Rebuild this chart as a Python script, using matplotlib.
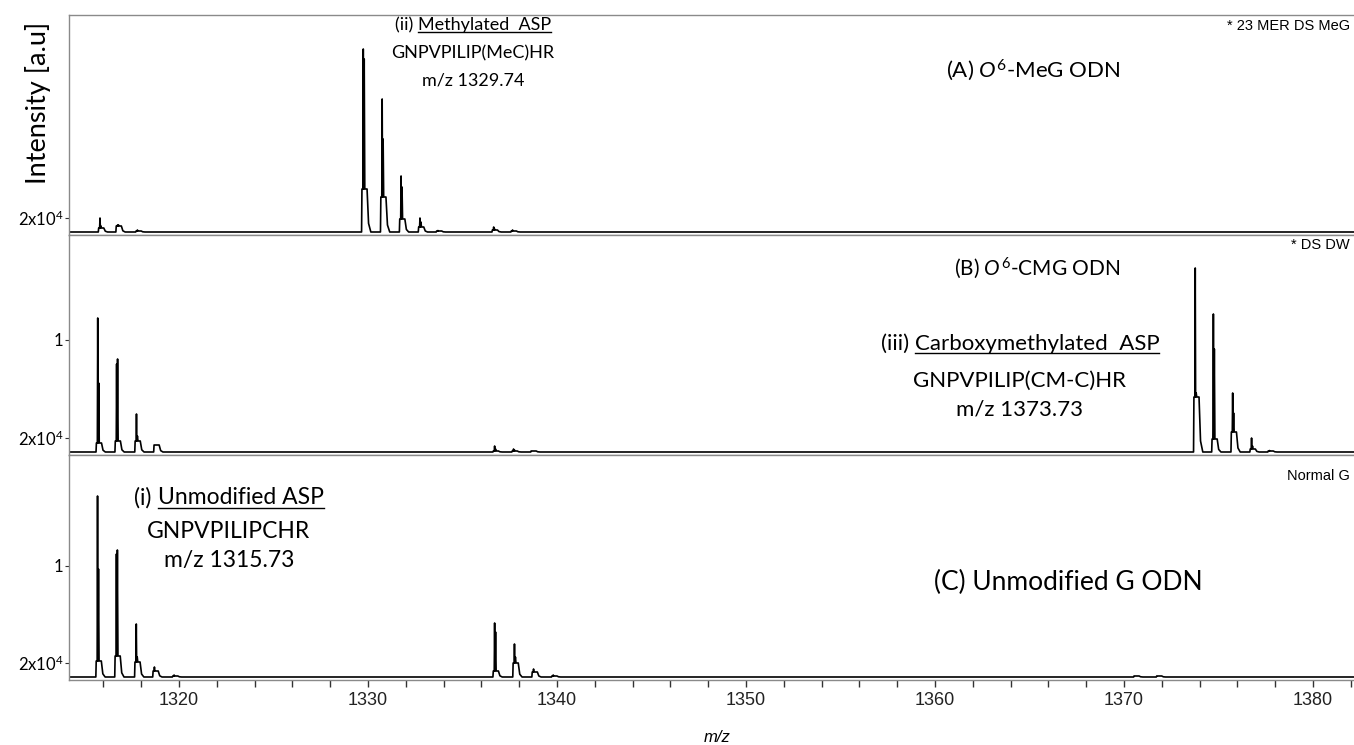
import numpy as np
import matplotlib
matplotlib.use("Agg")
import matplotlib.pyplot as plt
from matplotlib.lines import Line2D

plt.rcParams['font.family'] = ['Lato', 'DejaVu Sans']
plt.rcParams['mathtext.fontset'] = 'custom'
plt.rcParams['mathtext.rm'] = 'Lato'
plt.rcParams['mathtext.it'] = 'Lato:italic'

W, H = 1354, 745

# peak m/z, spike height, second spike height, base hump height (relative intensity)
panelA_mz = [1315.82, 1316.75, 1317.8, 1329.75, 1330.75, 1331.75, 1332.75, 1333.7, 1336.65, 1337.65]
panelA_h = [14, 7, 2, 183, 133, 56, 14, 1.5, 5, 2]
panelA_h2 = [6, 7, 1, 173, 93, 45, 10, 1, 3, 1]
panelA_hb = [4, 6, 1, 43, 35, 13, 5, 1, 2, 1]

panelB_mz = [1315.7, 1316.7, 1317.75, 1318.75, 1336.7, 1337.7, 1338.7,
             1373.77, 1374.73, 1375.75, 1376.75, 1377.7]
panelB_h = [134, 88, 38, 7, 6, 3, 1, 184, 138, 59, 14, 1.5]
panelB_h2 = [69, 93, 16, 7, 3, 2, 1, 59, 103, 39, 6, 1]
panelB_hb = [9, 11, 11, 7, 1, 1, 1, 55, 13, 20, 3, 1]

panelC_mz = [1315.69, 1316.69, 1317.74, 1318.7, 1319.74, 1336.7, 1337.75, 1338.76,
             1339.8, 1370.6, 1371.8]
panelC_h = [181, 123, 53, 10, 2, 54, 33, 8, 2, 1, 1]
panelC_h2 = [108, 127, 20, 6, 1, 45, 20, 5, 1, 1, 1]
panelC_hb = [16, 21, 15, 6, 1, 6, 14, 5, 1, 1, 1]

xmin, xmax = 1314.18, 1382.17


def profile(mz, h, h2, hb):
    xs = [xmin - 1]
    ys = [0]
    for m, a, b, c in sorted(zip(mz, h, h2, hb)):
        xs += [m - 0.09, m - 0.07, m - 0.02, m, m + 0.02, m + 0.05, m + 0.08, m + 0.2, m + 0.28, m + 0.4]
        ys += [0, c, c, a, c, b, c, c, c * 0.2, 0]
    xs.append(xmax + 1)
    ys.append(0)
    return xs, ys


fig = plt.figure(figsize=(W / 100, H / 100), dpi=100)
gs = fig.add_gridspec(3, 1, height_ratios=[220, 220, 225], hspace=0,
                      left=69 / W, right=1.0, top=1 - 15 / H, bottom=1 - 680 / H)
axes = [fig.add_subplot(gs[i]) for i in range(3)]

data = [(panelA_mz, panelA_h, panelA_h2, panelA_hb),
        (panelB_mz, panelB_h, panelB_h2, panelB_hb),
        (panelC_mz, panelC_h, panelC_h2, panelC_hb)]
ylims = [(-3, 217), (-3, 217), (-3, 222)]
yticks = [[14], [14, 112], [14, 111]]
ylabels = [['2x10$^4$'], ['2x10$^4$', '1'], ['2x10$^4$', '1']]

for ax, d, yl, yt, ytl in zip(axes, data, ylims, yticks, ylabels):
    xs, ys = profile(*d)
    ax.plot(xs, ys, color='black', lw=1.2)
    ax.set_xlim(xmin, xmax)
    ax.set_ylim(*yl)
    ax.set_yticks(yt)
    ax.set_yticklabels(ytl, fontsize=12)
    ax.tick_params(axis='y', length=3, width=0.8, color='#333333', pad=1)
    ax.spines['right'].set_visible(False)
    for s in ['left', 'top', 'bottom']:
        ax.spines[s].set_color('#8a8a8a')
        ax.spines[s].set_linewidth(1.0)
    ax.set_xticks(np.arange(1320, 1381, 10))
    ax.set_xticks(np.arange(1316, 1383, 2), minor=True)
    if ax is not axes[-1]:
        ax.tick_params(axis='x', which='both', bottom=False, labelbottom=False)

axes[-1].tick_params(axis='x', which='both', length=5, width=1.0, color='#333333', pad=4)
for lab in axes[-1].get_xticklabels():
    lab.set_family(['Liberation Sans'])
    lab.set_fontsize(13)
    lab.set_color('#222222')


def fx(x):
    return x / W


def fy(y):
    return 1 - y / H


fig.text(fx(38), fy(103), 'Intensity [a.u]', rotation=90, ha='center', va='center', fontsize=19.5)
fig.text(fx(717), fy(737), 'm/z', ha='center', va='center', fontsize=12, style='italic',
         family=['Liberation Sans'])

# corner labels at the right edge
corner_kw = dict(fontsize=10.5, family=['Liberation Sans'], va='center', ha='right')
fig.text(fx(1350), fy(26), '* 23 MER DS MeG', **corner_kw)
fig.text(fx(1350), fy(245), '* DS DW', **corner_kw)
fig.text(fx(1350), fy(476), 'Normal G', **corner_kw)

# panel titles
fig.text(fx(1033), fy(70), '(A) $\\mathit{O}^{6}$-MeG ODN', ha='center', va='center', fontsize=16)
fig.text(fx(1037), fy(268), '(B) $\\mathit{O}^{6}$-CMG ODN', ha='center', va='center', fontsize=15)
fig.text(fx(1068), fy(582), '(C) Unmodified G ODN', ha='center', va='center', fontsize=19)

# peptide annotations
annots = [('(ii) ', 'Methylated  ASP', 'GNPVPILIP(MeC)HR', 'm/z 1329.74', 473, [25, 53, 81], 13),
          ('(iii) ', 'Carboxymethylated  ASP', 'GNPVPILIP(CM-C)HR', 'm/z 1373.73', 1020, [344, 381, 409], 16),
          ('(i) ', 'Unmodified ASP', 'GNPVPILIPCHR', 'm/z 1315.73', 229, [498, 532, 561], 16.5)]

pairs = []
for prefix, name, seq, mzlab, cx, ys_, fs in annots:
    tp = fig.text(0, fy(ys_[0]), prefix, ha='left', va='center', fontsize=fs)
    tn = fig.text(0, fy(ys_[0]), name, ha='left', va='center', fontsize=fs)
    pairs.append((tp, tn, cx))
    fig.text(fx(cx), fy(ys_[1]), seq, ha='center', va='center', fontsize=fs)
    fig.text(fx(cx), fy(ys_[2]), mzlab, ha='center', va='center', fontsize=fs)

fig.canvas.draw()
renderer = fig.canvas.get_renderer()
for tp, tn, cx in pairs:
    wp = tp.get_window_extent(renderer).width
    wn = tn.get_window_extent(renderer).width
    x0 = cx - (wp + wn) / 2
    tp.set_x(fx(x0))
    tn.set_x(fx(x0 + wp))

fig.canvas.draw()
for tp, tn, cx in pairs:
    bb = tn.get_window_extent(renderer)
    yline = bb.y0 + 1
    fig.add_artist(Line2D([bb.x0 / W, bb.x1 / W], [yline / H, yline / H],
                          transform=fig.transFigure, color='black', lw=1.0))

fig.savefig('out.png', dpi=100)
